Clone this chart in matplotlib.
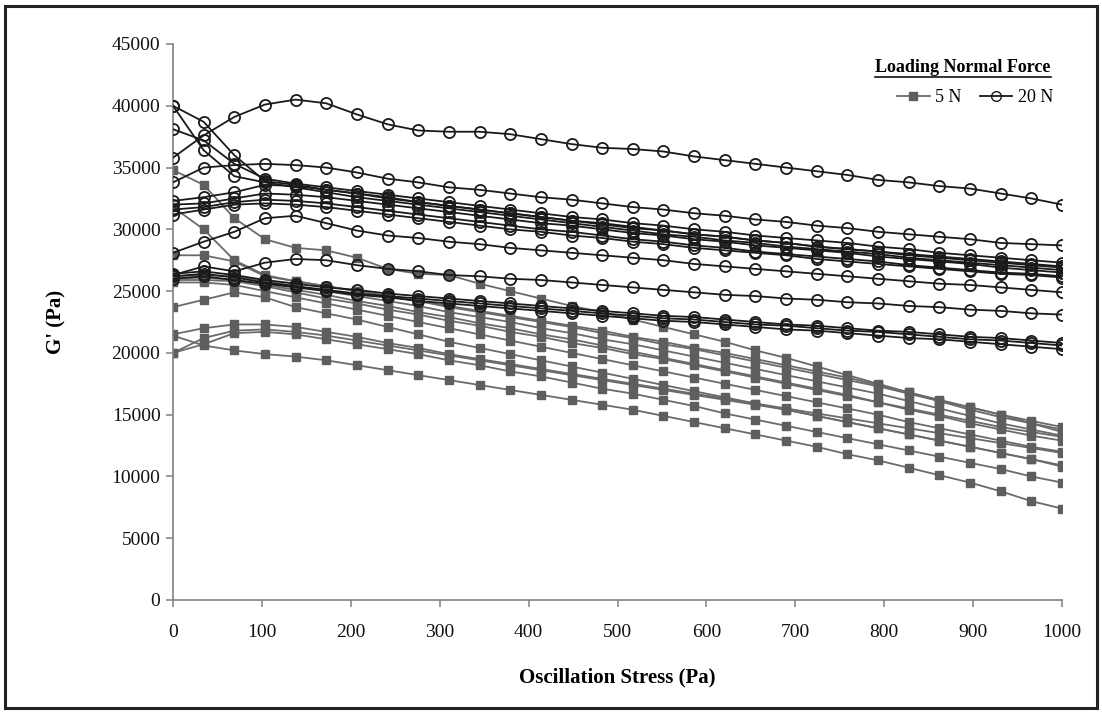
import matplotlib
matplotlib.use("Agg")
import matplotlib.pyplot as plt
from matplotlib.lines import Line2D
from matplotlib.patches import Rectangle

# Oscillation stress sweep points (Pa)
stress = [0, 34.5, 69.0, 103.4, 137.9, 172.4, 206.9, 241.4, 275.9, 310.3,
          344.8, 379.3, 413.8, 448.3, 482.8, 517.2, 551.7, 586.2, 620.7, 655.2,
          689.7, 724.1, 758.6, 793.1, 827.6, 862.1, 896.6, 931.0, 965.5, 1000]

# Storage modulus G' (kPa), samples loaded with a 5 N normal force
g5_a = [34.8, 33.6, 30.9, 29.2, 28.5, 28.3, 27.7, 26.8, 26.4, 26.3, 25.6, 25.0, 24.4, 23.8, 23.3,
        22.7, 22.1, 21.5, 20.9, 20.2, 19.6, 18.9, 18.2, 17.5, 16.8, 16.1, 15.4, 14.8, 14.3, 13.8]
g5_b = [31.8, 30.0, 27.5, 26.3, 25.8, 25.4, 25.0, 24.6, 24.2, 23.8, 23.4, 23.0, 22.6, 22.2, 21.8,
        21.3, 20.9, 20.4, 20.0, 19.5, 19.0, 18.5, 18.0, 17.4, 16.8, 16.2, 15.6, 15.0, 14.3, 13.6]
g5_c = [27.9, 27.9, 27.4, 26.2, 25.8, 25.4, 25.0, 24.6, 24.2, 23.7, 23.3, 22.9, 22.5, 22.1, 21.6,
        21.2, 20.7, 20.3, 19.8, 19.3, 18.8, 18.3, 17.8, 17.3, 16.7, 16.1, 15.6, 15.0, 14.5, 14.0]
g5_d = [26.2, 26.3, 26.2, 25.8, 25.4, 25.0, 24.6, 24.2, 23.8, 23.3, 22.9, 22.5, 22.0, 21.6, 21.1,
        20.7, 20.2, 19.7, 19.2, 18.7, 18.2, 17.7, 17.2, 16.7, 16.1, 15.5, 14.9, 14.3, 13.8, 13.3]
g5_e = [25.9, 25.9, 25.8, 25.4, 24.9, 24.4, 24.0, 23.5, 23.1, 22.6, 22.2, 21.7, 21.3, 20.8, 20.4,
        19.9, 19.5, 19.0, 18.5, 18.0, 17.5, 17.0, 16.5, 16.0, 15.4, 14.9, 14.3, 13.8, 13.3, 12.9]
g5_f = [25.7, 25.7, 25.5, 25.0, 24.5, 24.0, 23.5, 23.0, 22.5, 22.0, 21.5, 21.0, 20.5, 20.0, 19.5,
        19.0, 18.5, 18.0, 17.5, 17.0, 16.5, 16.0, 15.5, 15.0, 14.4, 13.9, 13.4, 12.9, 12.4, 12.0]
g5_g = [26.0, 26.1, 25.9, 25.5, 25.1, 24.7, 24.2, 23.8, 23.3, 22.9, 22.4, 22.0, 21.5, 21.1, 20.6,
        20.1, 19.6, 19.1, 18.6, 18.1, 17.6, 17.1, 16.6, 16.0, 15.5, 15.0, 14.5, 14.0, 13.6, 13.2]
g5_h = [23.7, 24.3, 24.9, 24.5, 23.7, 23.2, 22.7, 22.1, 21.5, 20.9, 20.4, 19.9, 19.4, 18.9, 18.4,
        17.9, 17.4, 16.9, 16.4, 15.9, 15.4, 14.9, 14.4, 13.9, 13.4, 12.9, 12.4, 11.9, 11.4, 10.8]
g5_i = [21.5, 22.0, 22.3, 22.3, 22.1, 21.7, 21.3, 20.8, 20.4, 19.9, 19.5, 19.1, 18.7, 18.3, 17.9,
        17.5, 17.1, 16.7, 16.3, 15.9, 15.5, 15.1, 14.7, 14.3, 13.9, 13.5, 13.1, 12.7, 12.3, 11.9]
g5_j = [21.4, 20.6, 20.2, 19.9, 19.7, 19.4, 19.0, 18.6, 18.2, 17.8, 17.4, 17.0, 16.6, 16.2, 15.8,
        15.4, 14.9, 14.4, 13.9, 13.4, 12.9, 12.4, 11.8, 11.3, 10.7, 10.1, 9.5, 8.8, 8.0, 7.4]
g5_k = [20.0, 20.7, 21.6, 21.7, 21.5, 21.1, 20.7, 20.3, 19.9, 19.4, 19.0, 18.5, 18.1, 17.6, 17.1,
        16.7, 16.2, 15.7, 15.1, 14.6, 14.1, 13.6, 13.1, 12.6, 12.1, 11.6, 11.1, 10.6, 10.0, 9.5]
g5_l = [20.0, 21.2, 21.8, 21.9, 21.7, 21.4, 21.0, 20.6, 20.2, 19.8, 19.4, 19.0, 18.6, 18.2, 17.8,
        17.4, 17.0, 16.6, 16.2, 15.8, 15.4, 14.9, 14.4, 13.9, 13.4, 12.9, 12.4, 11.9, 11.4, 10.9]

# Storage modulus G' (kPa), samples loaded with a 20 N normal force
g20_a = [35.8, 37.6, 39.1, 40.1, 40.5, 40.2, 39.3, 38.5, 38.0, 37.9, 37.9, 37.7, 37.3, 36.9, 36.6,
         36.5, 36.3, 35.9, 35.6, 35.3, 35.0, 34.7, 34.4, 34.0, 33.8, 33.5, 33.3, 32.9, 32.5, 32.0]
g20_b = [40.0, 38.7, 36.0, 33.9, 33.6, 33.2, 32.9, 32.6, 32.2, 31.9, 31.6, 31.3, 31.0, 30.7, 30.5,
         30.2, 29.9, 29.6, 29.4, 29.1, 28.9, 28.6, 28.4, 28.2, 28.0, 27.8, 27.6, 27.4, 27.2, 27.0]
g20_c = [40.0, 36.4, 34.3, 33.8, 33.4, 33.0, 32.6, 32.3, 32.0, 31.7, 31.4, 31.1, 30.8, 30.5, 30.2,
         29.9, 29.6, 29.4, 29.1, 28.9, 28.6, 28.4, 28.2, 28.0, 27.7, 27.5, 27.3, 27.1, 26.9, 26.7]
g20_d = [38.1, 37.2, 35.3, 34.1, 33.7, 33.4, 33.1, 32.8, 32.5, 32.2, 31.9, 31.6, 31.3, 31.0, 30.8,
         30.5, 30.3, 30.0, 29.8, 29.5, 29.3, 29.1, 28.9, 28.6, 28.4, 28.1, 27.9, 27.7, 27.5, 27.3]
g20_e = [33.8, 35.0, 35.2, 35.3, 35.2, 35.0, 34.6, 34.1, 33.8, 33.4, 33.2, 32.9, 32.6, 32.4, 32.1,
         31.8, 31.6, 31.3, 31.1, 30.8, 30.6, 30.3, 30.1, 29.8, 29.6, 29.4, 29.2, 28.9, 28.8, 28.7]
g20_f = [32.3, 32.6, 33.0, 33.6, 33.5, 33.2, 32.9, 32.5, 32.2, 31.9, 31.6, 31.3, 31.0, 30.7, 30.4,
         30.1, 29.9, 29.6, 29.4, 29.1, 28.9, 28.6, 28.4, 28.2, 27.9, 27.7, 27.5, 27.3, 27.1, 26.9]
g20_g = [32.0, 32.1, 32.5, 32.9, 32.8, 32.6, 32.3, 32.0, 31.7, 31.4, 31.1, 30.8, 30.5, 30.3, 30.0,
         29.7, 29.5, 29.2, 29.0, 28.7, 28.5, 28.3, 28.1, 27.8, 27.6, 27.4, 27.2, 26.9, 26.7, 26.5]
g20_h = [31.6, 31.8, 32.2, 32.4, 32.3, 32.1, 31.8, 31.5, 31.2, 30.9, 30.6, 30.3, 30.0, 29.8, 29.5,
         29.2, 29.0, 28.7, 28.5, 28.2, 28.0, 27.8, 27.6, 27.4, 27.1, 26.9, 26.7, 26.5, 26.4, 26.2]
g20_i = [31.2, 31.6, 32.0, 32.1, 32.0, 31.8, 31.5, 31.2, 30.9, 30.6, 30.3, 30.0, 29.8, 29.5, 29.3,
         29.0, 28.8, 28.5, 28.3, 28.1, 27.9, 27.6, 27.4, 27.2, 27.0, 26.8, 26.6, 26.4, 26.3, 26.1]
g20_j = [28.1, 29.0, 29.8, 30.9, 31.1, 30.5, 29.9, 29.5, 29.3, 29.0, 28.8, 28.5, 28.3, 28.1, 27.9,
         27.7, 27.5, 27.2, 27.0, 26.8, 26.6, 26.4, 26.2, 26.0, 25.8, 25.6, 25.5, 25.3, 25.1, 24.9]
g20_k = [26.3, 27.0, 26.6, 27.3, 27.6, 27.5, 27.1, 26.8, 26.6, 26.3, 26.2, 26.0, 25.9, 25.7, 25.5,
         25.3, 25.1, 24.9, 24.7, 24.6, 24.4, 24.3, 24.1, 24.0, 23.8, 23.7, 23.5, 23.4, 23.2, 23.1]
g20_l = [26.4, 26.6, 26.3, 25.9, 25.6, 25.3, 25.1, 24.8, 24.6, 24.4, 24.2, 24.0, 23.8, 23.6, 23.4,
         23.2, 23.0, 22.9, 22.7, 22.5, 22.3, 22.2, 22.0, 21.8, 21.7, 21.5, 21.3, 21.2, 21.0, 20.8]
g20_m = [26.2, 26.4, 26.1, 25.7, 25.4, 25.1, 24.8, 24.6, 24.4, 24.2, 24.0, 23.8, 23.6, 23.4, 23.2,
         23.0, 22.8, 22.7, 22.5, 22.3, 22.2, 22.0, 21.8, 21.7, 21.5, 21.3, 21.1, 21.0, 20.8, 20.6]
g20_n = [26.0, 26.2, 25.9, 25.6, 25.3, 25.0, 24.7, 24.5, 24.2, 24.0, 23.8, 23.6, 23.4, 23.2, 23.0,
         22.8, 22.6, 22.5, 22.3, 22.1, 21.9, 21.8, 21.6, 21.4, 21.2, 21.1, 20.9, 20.7, 20.5, 20.3]

series_5n = [g5_a, g5_b, g5_c, g5_d, g5_e, g5_f, g5_g, g5_h, g5_i, g5_j, g5_k, g5_l]
series_20n = [g20_a, g20_b, g20_c, g20_d, g20_e, g20_f, g20_g, g20_h, g20_i, g20_j,
              g20_k, g20_l, g20_m, g20_n]

x_ticks = [0, 100, 200, 300, 400, 500, 600, 700, 800, 900, 1000]
y_ticks = [0, 5000, 10000, 15000, 20000, 25000, 30000, 35000, 40000, 45000]

legend_title = "Loading Normal Force"
legend_labels = ["5 N", "20 N"]

SERIF = ["Liberation Serif", "DejaVu Serif"]
GRAY = "#6a6a6a"
AXIS_GRAY = "#808080"

W, H = 1102, 714
fig = plt.figure(figsize=(W / 100, H / 100), dpi=100)
fig.patch.set_facecolor("white")

# outer frame around the whole figure
fig.patches.append(Rectangle((5 / W, 6 / H), 1 - 10 / W, 1 - 12 / H,
                             transform=fig.transFigure, fill=False,
                             edgecolor="#222222", linewidth=2.2))

ax = fig.add_axes([173 / W, 1 - 600 / H, (1062 - 173) / W, (600 - 44) / H])

for s in series_5n:
    ax.plot(stress, [v * 1000 for v in s], color=GRAY, linewidth=1.3,
            marker="s", markersize=5.2, markerfacecolor="#5e5e5e",
            markeredgecolor="#5e5e5e", zorder=2)

for s in series_20n:
    ax.plot(stress, [v * 1000 for v in s], color="#1a1a1a", linewidth=1.3,
            marker="o", markersize=8, markerfacecolor="none",
            markeredgecolor="#1a1a1a", markeredgewidth=1.3, zorder=3)

ax.set_xlim(0, 1000)
ax.set_ylim(0, 45000)
ax.set_xticks(x_ticks)
ax.set_yticks(y_ticks)
ax.set_xticklabels([str(t) for t in x_ticks], fontfamily=SERIF, fontsize=14)
ax.set_yticklabels([str(t) for t in y_ticks], fontfamily=SERIF, fontsize=14)
for side in ("top", "right"):
    ax.spines[side].set_visible(False)
for side in ("left", "bottom"):
    ax.spines[side].set_color(AXIS_GRAY)
    ax.spines[side].set_linewidth(1.2)
ax.tick_params(axis="both", direction="out", length=5, width=1.1,
               color=AXIS_GRAY, labelcolor="#111111")
ax.tick_params(axis="x", pad=12)
ax.tick_params(axis="y", pad=4)

fig.text(617 / W, 1 - 677 / H, "Oscillation Stress (Pa)", ha="center",
         va="center", fontfamily=SERIF, fontsize=15, fontweight="bold")
fig.text(56 / W, 1 - 322 / H, "G' (Pa)", ha="center", va="center",
         rotation=90, fontfamily=SERIF, fontsize=15, fontweight="bold")

# legend title with underline
title_txt = fig.text(963 / W, 1 - 67 / H, legend_title, ha="center", va="center",
                     fontfamily=SERIF, fontsize=13, fontweight="bold")
fig.canvas.draw()
bb = title_txt.get_window_extent()
fig.add_artist(Line2D([bb.x0 / W, bb.x1 / W], [(bb.y0 - 1) / H, (bb.y0 - 1) / H],
                      transform=fig.transFigure, color="#111111", linewidth=1.2))

handles = [
    Line2D([], [], color=GRAY, linewidth=1.3, marker="s", markersize=5.2,
           markerfacecolor="#5e5e5e", markeredgecolor="#5e5e5e"),
    Line2D([], [], color="#1a1a1a", linewidth=1.3, marker="o", markersize=7,
           markerfacecolor="none", markeredgecolor="#1a1a1a"),
]
fig.legend(handles, legend_labels, loc="center", bbox_to_anchor=(975 / W, 1 - 98 / H),
           ncol=2, frameon=False, handlelength=1.8, handletextpad=0.3,
           columnspacing=1.0, prop={"family": SERIF, "size": 13})

fig.savefig("out.png", dpi=100)
